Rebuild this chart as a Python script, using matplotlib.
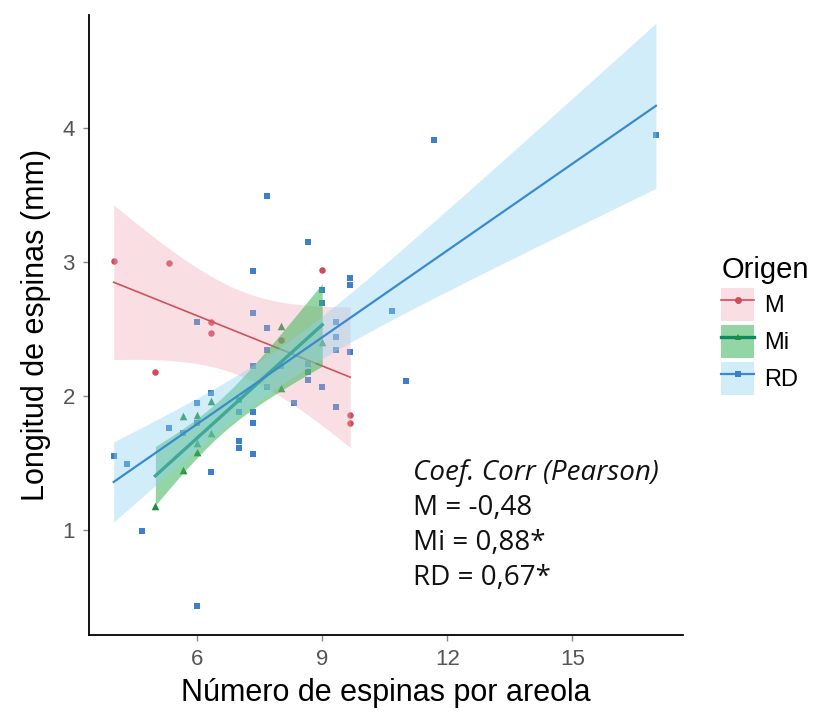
import math
import numpy as np
import matplotlib
matplotlib.use("Agg")
import matplotlib.pyplot as plt
from matplotlib.patches import Patch
from matplotlib.lines import Line2D

# datos por origen
grupos = ["M", "Mi", "RD"]

m_x = [4.0, 5.33, 5.0, 6.33, 6.33, 9.0, 9.67, 9.67, 8.0]
m_y = [3.01, 2.99, 2.18, 2.55, 2.47, 2.94, 1.86, 1.80, 2.42]

mi_x = [5.0, 5.67, 6.0, 6.33, 5.67, 6.0, 6.33, 8.0, 8.0, 9.0, 6.0]
mi_y = [1.18, 1.45, 1.58, 1.72, 1.85, 1.86, 1.96, 2.06, 2.52, 2.40, 1.65]

rd_x = [7.67, 8.67, 7.33, 9.67, 9.67, 9.0, 9.0, 10.67, 7.33, 6.0, 7.67, 9.33,
        9.33, 9.33, 9.67, 7.67, 7.33, 8.0, 8.67, 8.67, 8.67, 7.67, 9.0, 8.33,
        9.33, 11.0, 11.67, 17.0, 6.33, 6.0, 6.0, 5.33, 5.67, 7.0, 7.0, 7.33,
        7.33, 7.0, 7.0, 7.33, 6.33, 4.0, 4.33, 4.67, 6.0]
rd_y = [3.49, 3.15, 2.93, 2.88, 2.83, 2.79, 2.69, 2.63, 2.62, 2.55, 2.51, 2.55,
        2.44, 2.34, 2.33, 2.34, 2.22, 2.22, 2.24, 2.18, 2.12, 2.07, 2.07, 1.95,
        1.92, 2.11, 3.91, 3.95, 2.02, 1.95, 1.80, 1.76, 1.72, 1.97, 1.88, 1.88,
        1.80, 1.66, 1.61, 1.57, 1.43, 1.55, 1.49, 0.99, 0.43]

coef_txt = ["M = -0,48", "Mi = 0,88*", "RD = 0,67*"]

datos = {"M": (m_x, m_y), "Mi": (mi_x, mi_y), "RD": (rd_x, rd_y)}
col_pto = {"M": "#D24A5A", "Mi": "#1E8C3C", "RD": "#3A80CC"}
col_lin = {"M": "#D0505C", "Mi": "#0F8A5E", "RD": "#3A8ACF"}
col_rib = {"M": ("#F0A8B4", 0.36), "Mi": ("#3DB45A", 0.55), "RD": ("#8ED3F2", 0.4)}
marcas = {"M": "o", "Mi": "^", "RD": "s"}
tam = {"M": 22, "Mi": 30, "RD": 20}
grosor = {"M": 1.2, "Mi": 2.4, "RD": 1.6}


def t975(df):
    # cuantil 0.975 de la t de Student por integracion numerica
    xs = np.linspace(0, 12, 60001)
    c = math.exp(math.lgamma((df + 1) / 2) - math.lgamma(df / 2)) / math.sqrt(df * math.pi)
    pdf = c * (1 + xs**2 / df) ** (-(df + 1) / 2)
    cdf = 0.5 + np.concatenate([[0], np.cumsum((pdf[1:] + pdf[:-1]) / 2 * np.diff(xs))])
    return np.interp(0.975, cdf, xs)


def ajuste_lm(x, y):
    x = np.asarray(x)
    y = np.asarray(y)
    n = len(x)
    b, a = np.polyfit(x, y, 1)
    res = y - (a + b * x)
    s = np.sqrt(np.sum(res**2) / (n - 2))
    sxx = np.sum((x - x.mean())**2)
    xg = np.linspace(x.min(), x.max(), 80)
    yg = a + b * xg
    se = s * np.sqrt(1 / n + (xg - x.mean())**2 / sxx)
    t = t975(n - 2)
    return xg, yg, yg - t * se, yg + t * se


plt.rcParams['font.family'] = ['Liberation Sans', 'DejaVu Sans']

fig = plt.figure(figsize=(8.17, 7.21), dpi=100)
ax = fig.add_axes([0.1085, 0.1193, 0.7275, 0.86])

# puntos primero, luego bandas y rectas encima
for g in grupos:
    x, y = datos[g]
    ax.scatter(x, y, marker=marcas[g], s=tam[g], color=col_pto[g],
               linewidths=0, zorder=2)

z = 3
for g in grupos:
    x, y = datos[g]
    xg, yg, lo, hi = ajuste_lm(x, y)
    fc, al = col_rib[g]
    ax.fill_between(xg, lo, hi, color=fc, alpha=al, linewidth=0, zorder=z)
    ax.plot(xg, yg, color=col_lin[g], lw=grosor[g], zorder=z + 1)
    z += 2

ax.set_xlim(3.4, 17.65)
ax.set_ylim(0.216, 4.843)
ax.set_xticks([6, 9, 12, 15])
ax.set_yticks([1, 2, 3, 4])
ax.spines['top'].set_visible(False)
ax.spines['right'].set_visible(False)
ax.spines['left'].set_linewidth(1.3)
ax.spines['bottom'].set_linewidth(1.3)
ax.tick_params(axis='both', length=4, width=1, color='#888888',
               labelsize=16, labelcolor='#555555', pad=6)

ax.set_xlabel("Número de espinas por areola", fontsize=22, labelpad=6)
ax.set_ylabel("Longitud de espinas (mm)", fontsize=22, labelpad=8)

# texto de correlaciones
ax.text(0.545, 0.262, "Coef. Corr (Pearson)", transform=ax.transAxes,
        family=['Open Sans', 'DejaVu Sans'], style='italic', fontsize=20,
        va='center', ha='left', color='#111111')
for i, t in enumerate(coef_txt):
    ax.text(0.545, 0.204 - i * 0.056, t, transform=ax.transAxes,
            family=['Open Sans', 'DejaVu Sans'], fontsize=20,
            va='center', ha='left', color='#111111')

# leyenda
handles = []
for g in grupos:
    fc, al = col_rib[g]
    handles.append((Patch(facecolor=fc, alpha=al, edgecolor='none'),
                    Line2D([], [], color=col_lin[g], lw=grosor[g],
                           marker=marcas[g], markersize=5,
                           markerfacecolor=col_pto[g], markeredgewidth=0)))
leg = fig.legend(handles, grupos, title="Origen", loc='center left',
                 bbox_to_anchor=(0.857, 0.548), frameon=False, fontsize=17,
                 title_fontsize=21, handlelength=1.4, handleheight=1.8,
                 handletextpad=0.4, labelspacing=0.15)
leg._legend_box.align = "left"

fig.savefig("out.png", dpi=100)
